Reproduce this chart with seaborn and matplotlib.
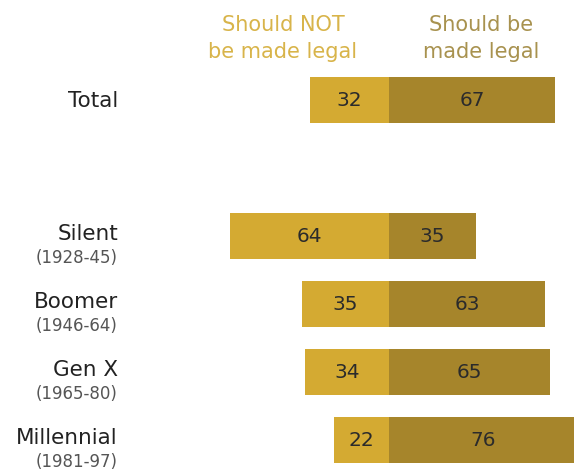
import numpy as np
import pandas as pd
import matplotlib
matplotlib.use('Agg')
import matplotlib.pyplot as plt
import seaborn as sns

# ── Data ───────────────────────────────────────────────────
groups     = ['Total', '', 'Silent', 'Boomer', 'Gen X', 'Millennial']
years      = ['', '', '(1928-45)', '(1946-64)', '(1965-80)', '(1981-97)']
not_legal  = [32, np.nan, 64, 35, 34, 22]
legal      = [67, np.nan, 35, 63, 65, 76]
headers    = ['Should NOT\nbe made legal', 'Should be\nmade legal']

C_NOT   = '#D4AA32'
C_LEGAL = '#A6852B'
C_HEAD  = ['#D8B44A', '#A8924F']

sns.set_theme(style='white')
plt.rcParams['font.family'] = ['DejaVu Sans']

df = pd.DataFrame({'group': groups, 'years': years,
                   'not_legal': not_legal, 'legal': legal})
df['neg'] = -df['not_legal']
plot_df = df[df['group'] != '']

fig = plt.figure(figsize=(5.74, 4.77), dpi=100)
ax = fig.add_axes([0, 0, 1, 1])

sns.barplot(data=plot_df, x='neg', y='group', order=groups, color=C_NOT,
            width=0.68, saturation=1, orient='h', ax=ax, linewidth=0)
sns.barplot(data=plot_df, x='legal', y='group', order=groups, color=C_LEGAL,
            width=0.68, saturation=1, orient='h', ax=ax, linewidth=0)

# px layout: centre at 389px, 2.48 px per point, rows 68px apart
ax.set_xlim(-389 / 2.48, (574 - 389) / 2.48)
ax.set_ylim((477 - 101) / 68, -101 / 68)
ax.axis('off')

lbl_x = -(389 - 118) / 2.48
for i, row in df.iterrows():
    if row['group'] == '':
        continue
    ax.text(-row['not_legal'] / 2, i, f"{row['not_legal']:.0f}", ha='center',
            va='center', fontsize=14.5, color='#2b2b2b')
    ax.text(row['legal'] / 2, i, f"{row['legal']:.0f}", ha='center',
            va='center', fontsize=14.5, color='#2b2b2b')
    if row['years']:
        ax.text(lbl_x, i - 0.04, row['group'], ha='right', va='center',
                fontsize=15.5, color='#222222')
        ax.text(lbl_x - 0.3, i + 0.31, row['years'], ha='right', va='center',
                fontsize=12, color='#555555')
    else:
        ax.text(lbl_x, i, row['group'], ha='right', va='center',
                fontsize=15.5, color='#222222')

# column headers
ax.text(-(389 - 283) / 2.48, -0.92, headers[0], ha='center', va='center',
        fontsize=15, color=C_HEAD[0], linespacing=1.4)
ax.text((481 - 389) / 2.48, -0.92, headers[1], ha='center', va='center',
        fontsize=15, color=C_HEAD[1], linespacing=1.4)

plt.savefig('out.png', dpi=100, facecolor='white')
